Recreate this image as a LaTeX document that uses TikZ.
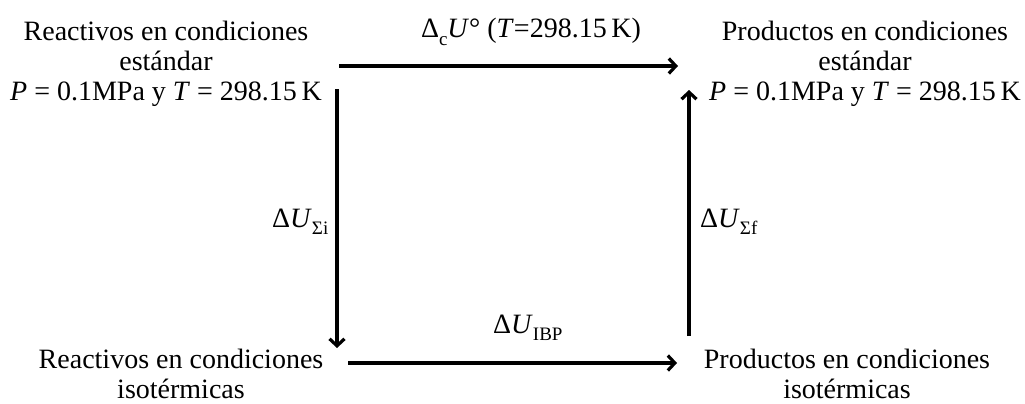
\documentclass[tikz,border=0pt]{standalone}
\usepackage{fontspec}
\setmainfont{Liberation Serif}
\usetikzlibrary{arrows.meta}
\newcommand{\mysub}[1]{\raisebox{-0.28em}{\fontsize{19}{19}\selectfont #1}}
\begin{document}
\begin{tikzpicture}[x=1pt,y=-1pt,
  txt/.style={inner sep=0pt,align=center,font=\fontsize{28}{30}\selectfont},
  lbl/.style={inner sep=0pt,font=\fontsize{28}{30}\selectfont},
  arr/.style={line width=3.2pt,-{Straight Barb[length=7pt,width=15pt,line width=3.2pt]}}]
\useasboundingbox (0,0) rectangle (1025,404);
\node[txt] (tl) at (166,64) {Reactivos en condiciones\\estándar\\\textit{P} = 0.1MPa y \textit{T} = 298.15\,K};
\node[txt] (tr) at (865,64) {Productos en condiciones\\estándar\\\textit{P} = 0.1MPa y \textit{T} = 298.15\,K};
\node[txt] (bl) at (181,374) {Reactivos en condiciones\\isotérmicas};
\node[txt] (br) at (847,374) {Productos en condiciones\\isotérmicas};
\coordinate (a1) at (339,66); \coordinate (a2) at (678,66);
\coordinate (b1) at (337,89); \coordinate (b2) at (337,348);
\coordinate (c1) at (689,336); \coordinate (c2) at (689,90);
\coordinate (d1) at (348,363); \coordinate (d2) at (677,363);
\draw[arr] (a1) -- (a2);
\draw[arr] (b1) -- (b2);
\draw[arr] (c1) -- (c2);
\draw[arr] (d1) -- (d2);
\node[lbl,anchor=base] (l1) at (531,38) {Δ\mysub{c}\textit{U}° (\textit{T}=298.15\,K)};
\node[lbl,anchor=base west] (l2) at (272,227) {Δ\textit{U}\mysub{Σi}};
\node[lbl,anchor=base west] (l3) at (700,227) {Δ\textit{U}\mysub{Σf}};
\node[lbl,anchor=base west] (l4) at (493,333) {Δ\textit{U}\mysub{IBP}};
\end{tikzpicture}
\end{document}
